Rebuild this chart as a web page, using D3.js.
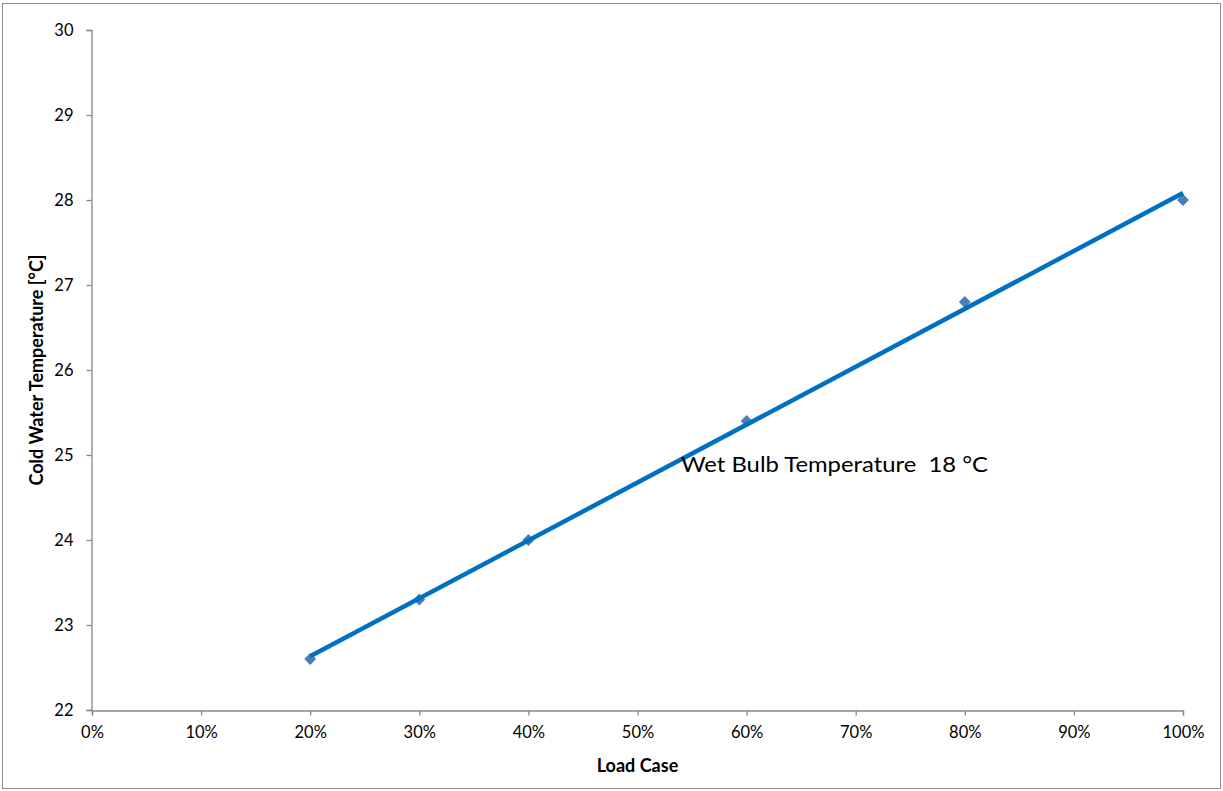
<!DOCTYPE html>
<html>
<head>
<meta charset="utf-8">
<script src="https://cdn.jsdelivr.net/npm/d3@7"></script>
<style>
  html, body { margin: 0; padding: 0; background: #fff; }
  svg { display: block; font-family: Lato, "Open Sans", sans-serif; }
</style>
</head>
<body>
<svg id="chart" width="1223" height="791"></svg>
<script>
// Load case (fraction of full load) and measured cold water temperature
const loadCases = [0.2, 0.3, 0.4, 0.6, 0.8, 1.0];
const coldWaterTemps = [22.6, 23.3, 24.0, 25.4, 26.8, 28.0];
const xTicks = [0, 0.1, 0.2, 0.3, 0.4, 0.5, 0.6, 0.7, 0.8, 0.9, 1.0];
const yTicks = [22, 23, 24, 25, 26, 27, 28, 29, 30];
const annotation = "Wet Bulb Temperature  18 °C";

const svg = d3.select("#chart");
const W = 1223, H = 791;
const plot = { left: 92, right: 1183, top: 30, bottom: 710 };

// Outer chart frame
svg.append("rect")
  .attr("x", 2.5).attr("y", 3.5)
  .attr("width", W - 5).attr("height", H - 6)
  .attr("fill", "none").attr("stroke", "#8c8c8c").attr("stroke-width", 1);

const x = d3.scaleLinear().domain([0, 1]).range([plot.left, plot.right]);
const y = d3.scaleLinear().domain([22, 30]).range([plot.bottom, plot.top]);

const axisColor = "#868686";

// Y axis
const yAxis = svg.append("g")
  .attr("transform", `translate(${plot.left - 0.5},0)`)
  .call(d3.axisLeft(y).tickValues(yTicks).tickSize(5).tickPadding(13).tickFormat(d3.format("d")));
// X axis
const xAxis = svg.append("g")
  .attr("transform", `translate(0,${plot.bottom + 0.5})`)
  .call(d3.axisBottom(x).tickValues(xTicks).tickSize(5).tickPadding(11).tickFormat(d3.format(".0%")));

[yAxis, xAxis].forEach(g => {
  g.select(".domain").attr("stroke", axisColor).attr("stroke-width", 1.3);
  g.selectAll(".tick line").attr("stroke", axisColor).attr("stroke-width", 1.3);
  g.selectAll(".tick text")
    .attr("fill", "#000")
    .style("font-size", "16.5px")
    .style("font-family", "Lato, 'Open Sans', sans-serif");
});

// Axis titles
svg.append("text")
  .attr("x", x(0.5)).attr("y", 772)
  .attr("text-anchor", "middle")
  .style("font-size", "18px").style("font-weight", "bold")
  .text("Load Case");
svg.append("text")
  .attr("transform", `translate(43,${y(26)}) rotate(-90)`)
  .attr("text-anchor", "middle")
  .style("font-size", "18px").style("font-weight", "bold")
  .text("Cold Water Temperature [°C]");

// Least-squares linear trend through the measurements
const mx = d3.mean(loadCases), my = d3.mean(coldWaterTemps);
const sxy = d3.sum(loadCases, (v, i) => (v - mx) * (coldWaterTemps[i] - my));
const sxx = d3.sum(loadCases, v => (v - mx) ** 2);
const slope = sxy / sxx, intercept = my - slope * mx;
const xMin = d3.min(loadCases), xMax = d3.max(loadCases);

// Data markers (diamonds)
svg.append("g").selectAll("path")
  .data(loadCases.map((v, i) => [v, coldWaterTemps[i]]))
  .join("path")
  .attr("transform", d => `translate(${x(d[0])},${y(d[1])})`)
  .attr("d", d3.symbol(d3.symbolDiamond2, 90))
  .attr("fill", "#4a7ebb");

// Trend line
svg.append("line")
  .attr("x1", x(xMin)).attr("y1", y(intercept + slope * xMin))
  .attr("x2", x(xMax)).attr("y2", y(intercept + slope * xMax))
  .attr("stroke", "#0070c0").attr("stroke-width", 4.5);

// Annotation (keeps the double space before the value)
svg.append("text")
  .attr("x", 681).attr("y", 472)
  .style("font-size", "22px")
  .style("white-space", "pre")
  .attr("xml:space", "preserve")
  .attr("textLength", 307)
  .attr("lengthAdjust", "spacingAndGlyphs")
  .text(annotation);
</script>
</body>
</html>
